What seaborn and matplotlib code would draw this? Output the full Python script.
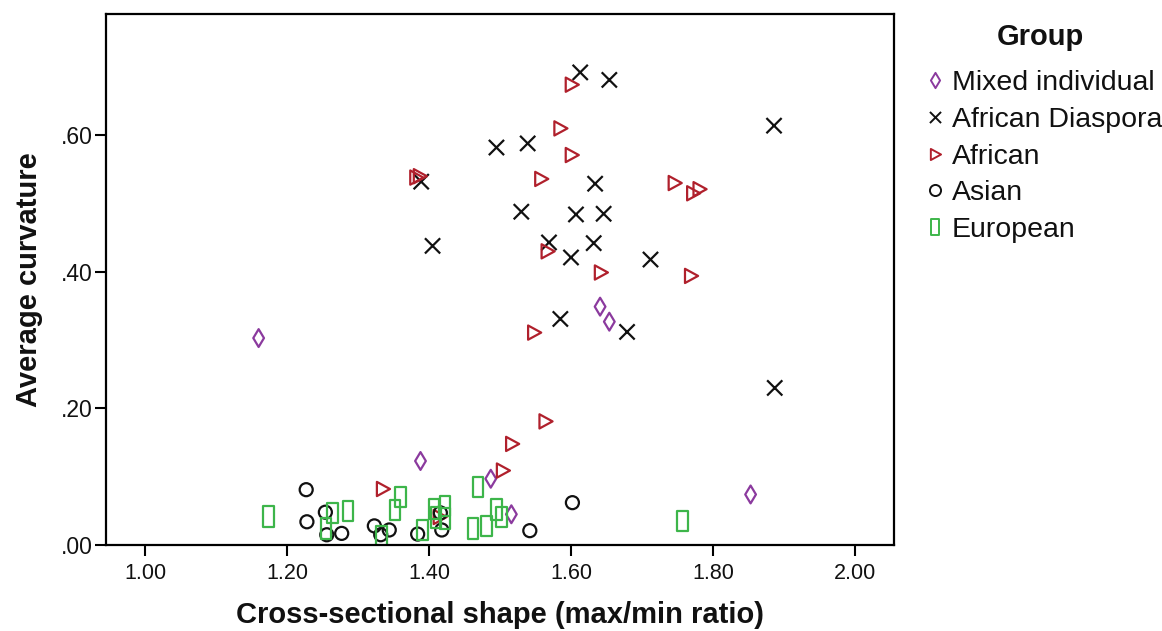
import numpy as np
import pandas as pd
import matplotlib
matplotlib.use("Agg")
import matplotlib.pyplot as plt
from matplotlib.path import Path
from matplotlib.lines import Line2D
import seaborn as sns

# ---------------- data ----------------
groups = ["Mixed individual", "African Diaspora", "African", "Asian", "European"]

mixed_x = [1.160, 1.641, 1.654, 1.388, 1.487, 1.516, 1.853]
mixed_y = [0.303, 0.349, 0.327, 0.123, 0.097, 0.045, 0.074]

diaspora_x = [1.613, 1.654, 1.886, 1.495, 1.539, 1.389, 1.634, 1.530, 1.607,
              1.646, 1.405, 1.569, 1.632, 1.600, 1.712, 1.585, 1.679, 1.887]
diaspora_y = [0.692, 0.681, 0.614, 0.582, 0.588, 0.532, 0.529, 0.488, 0.484,
              0.485, 0.438, 0.443, 0.442, 0.421, 0.418, 0.331, 0.312, 0.230]

african_x = [1.601, 1.585, 1.601, 1.382, 1.387, 1.558, 1.746, 1.781, 1.772,
             1.567, 1.642, 1.769, 1.548, 1.564, 1.517, 1.504, 1.335, 1.415]
african_y = [0.674, 0.610, 0.571, 0.538, 0.540, 0.536, 0.530, 0.521, 0.515,
             0.430, 0.399, 0.394, 0.311, 0.181, 0.148, 0.109, 0.082, 0.041]

asian_x = [1.227, 1.228, 1.254, 1.256, 1.277, 1.323, 1.332, 1.344, 1.384,
           1.416, 1.418, 1.542, 1.602]
asian_y = [0.081, 0.034, 0.048, 0.015, 0.017, 0.028, 0.015, 0.022, 0.016,
           0.047, 0.022, 0.021, 0.062]

european_x = [1.174, 1.255, 1.264, 1.286, 1.333, 1.352, 1.360, 1.391, 1.407,
              1.423, 1.423, 1.410, 1.462, 1.469, 1.481, 1.495, 1.502, 1.757]
european_y = [0.042, 0.024, 0.047, 0.050, 0.013, 0.051, 0.070, 0.022, 0.053,
              0.057, 0.039, 0.040, 0.024, 0.085, 0.028, 0.052, 0.041, 0.035]

x_ticks = [1.0, 1.2, 1.4, 1.6, 1.8, 2.0]
x_tick_labels = ["1.00", "1.20", "1.40", "1.60", "1.80", "2.00"]
y_ticks = [0.0, 0.2, 0.4, 0.6]
y_tick_labels = [".00", ".20", ".40", ".60"]

x_label = "Cross-sectional shape (max/min ratio)"
y_label = "Average curvature"
legend_title = "Group"

# ---------------- styles ----------------
colors = {
    "Mixed individual": "#8B3A9E",
    "African Diaspora": "#111111",
    "African": "#B0202C",
    "Asian": "#111111",
    "European": "#3DB54A",
}

def closed(verts):
    verts = list(verts) + [verts[0]]
    codes = [Path.MOVETO] + [Path.LINETO] * (len(verts) - 2) + [Path.CLOSEPOLY]
    return Path(verts, codes)

diamond = closed([(0, 0.5), (0.3, 0), (0, -0.5), (-0.3, 0)])
cross = Path([(-0.5, -0.5), (0.5, 0.5), (-0.5, 0.5), (0.5, -0.5)],
             [Path.MOVETO, Path.LINETO, Path.MOVETO, Path.LINETO])
tri_right = closed([(-0.42, 0.5), (0.5, 0.0), (-0.42, -0.5)])
circle = Path.unit_circle()
rect = closed([(-0.25, -0.5), (0.25, -0.5), (0.25, 0.5), (-0.25, 0.5)])

markers = {
    "Mixed individual": diamond,
    "African Diaspora": cross,
    "African": tri_right,
    "Asian": circle,
    "European": rect,
}
sizes = {
    "Mixed individual": 165,
    "African Diaspora": 120,
    "African": 105,
    "Asian": 88,
    "European": 220,
}

df = pd.concat([
    pd.DataFrame({"x": mixed_x, "y": mixed_y, "group": "Mixed individual"}),
    pd.DataFrame({"x": diaspora_x, "y": diaspora_y, "group": "African Diaspora"}),
    pd.DataFrame({"x": african_x, "y": african_y, "group": "African"}),
    pd.DataFrame({"x": asian_x, "y": asian_y, "group": "Asian"}),
    pd.DataFrame({"x": european_x, "y": european_y, "group": "European"}),
], ignore_index=True)

# ---------------- figure ----------------
sns.set_theme(style="white")
plt.rcParams["font.family"] = ["Liberation Sans", "DejaVu Sans"]

fig = plt.figure(figsize=(11.62, 6.31), dpi=100)
ax = fig.add_axes([106 / 1162, 1 - 545 / 631, (894 - 106) / 1162, (545 - 14) / 631])

sns.scatterplot(data=df, x="x", y="y", hue="group", style="group", size="group",
                hue_order=groups, style_order=groups, size_order=groups,
                palette=colors, markers=markers, sizes=sizes,
                linewidth=1.6, legend=False, ax=ax)

# hollow markers: outline in group colour
for coll in ax.collections:
    fc = coll.get_facecolors()
    coll.set_edgecolors(fc)
    coll.set_facecolors("none")
    coll.set_linewidths(1.6)

ax.set_xlim(0.945, 2.055)
ax.set_ylim(0.0, 0.7775)
ax.set_xticks(x_ticks)
ax.set_xticklabels(x_tick_labels)
ax.set_yticks(y_ticks)
ax.set_yticklabels(y_tick_labels)
ax.tick_params(axis="both", which="major", direction="out", length=8, width=1.5,
               color="black", labelcolor="#111111", bottom=True, left=True)
ax.tick_params(axis="x", labelsize=15.5, pad=5)
ax.tick_params(axis="y", labelsize=16.5, pad=1.5)
for sp in ax.spines.values():
    sp.set_color("black")
    sp.set_linewidth(1.6)

ax.set_xlabel(x_label, fontsize=21, fontweight="bold", labelpad=12, color="#111111")
ax.set_ylabel(y_label, fontsize=21, fontweight="bold", labelpad=13, color="#111111")

# legend title placed separately, entries below
fig.text(1040 / 1162, 1 - 37 / 631, legend_title, ha="center", va="center",
         fontsize=21, fontweight="bold", color="#111111")

handles = [Line2D([0], [0], marker=markers[g], linestyle="none",
                  markersize=11 if g in ("Mixed individual", "European") else 8,
                  markerfacecolor="none", markeredgecolor=colors[g],
                  markeredgewidth=1.4, label=g) for g in groups]
leg = fig.legend(handles=handles, loc="upper left",
                 bbox_to_anchor=(925 / 1162, 1 - 70 / 631), frameon=False,
                 fontsize=20.5, handlelength=0.7, handletextpad=0.25,
                 labelspacing=0.38, borderpad=0, borderaxespad=0)
for t in leg.get_texts():
    t.set_color("#111111")

fig.savefig("out.png", dpi=100, facecolor="white")
